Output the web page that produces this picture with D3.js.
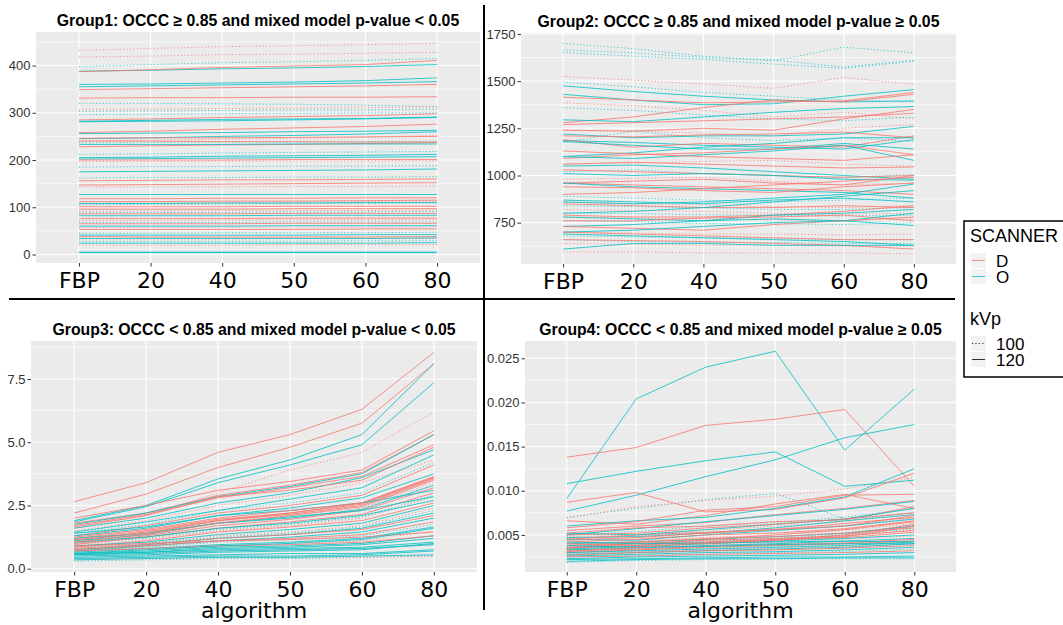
<!DOCTYPE html>
<html>
<head>
<meta charset="utf-8">
<script src="https://cdn.jsdelivr.net/npm/d3@7"></script>
<style>
  body { margin: 0; background: #fff; }
  svg { display: block; }
</style>
</head>
<body>
<div id="chart"></div>
<script>
// --- data ---
const algorithms = ["FBP", "20", "40", "50", "60", "80"];
const scanners = ["D", "O"];
const kvps = ["100", "120"];

const groupTitles = [
  "Group1: OCCC \u2265 0.85 and mixed model p-value < 0.05",
  "Group2: OCCC \u2265 0.85 and mixed model p-value \u2265 0.05",
  "Group3: OCCC < 0.85 and mixed model p-value < 0.05",
  "Group4: OCCC < 0.85 and mixed model p-value \u2265 0.05"
];

const yTicks1 = [0, 100, 200, 300, 400];
const yTicks2 = [750, 1000, 1250, 1500, 1750];
const yTicks3 = [0, 2.5, 5, 7.5];
const yTicks4 = [0.005, 0.010, 0.015, 0.020, 0.025];
const yMinor1 = [50, 150, 250, 350, 450];
const yMinor2 = [625, 875, 1125, 1375, 1625];
const yMinor3 = [1.25, 3.75, 6.25, 8.75];
const yMinor4 = [0.0025, 0.0075, 0.0125, 0.0175, 0.0225];

// each row: [scanner, kVp, values for FBP,20,40,50,60,80]
const group1Lines = [
  ["D",100,[432,436,440,442,444,447]], ["D",100,[418,420,423,424,426,428]],
  ["O",100,[398,402,406,408,411,415]], ["O",100,[320,320,319,318,316,313]],
  ["D",100,[307,308,309,310,311,313]], ["O",100,[303,304,305,306,306,308]],
  ["O",100,[296,297,298,299,300,300]], ["D",100,[240,242,244,246,248,252]],
  ["O",100,[236,237,238,238,239,240]], ["O",100,[212,213,215,216,217,218]],
  ["D",100,[197,197,198,198,198,199]], ["O",100,[185,186,186,187,187,188]],
  ["O",100,[162,163,163,164,164,165]], ["D",100,[143,143,143,144,144,145]],
  ["D",100,[108,109,110,111,112,113]], ["O",100,[105,106,107,108,108,109]],
  ["D",100,[92,92,93,93,93,94]], ["O",100,[88,89,89,90,90,91]],
  ["D",100,[72,72,73,73,73,74]], ["O",100,[68,68,68,69,69,69]],
  ["D",100,[57,57,58,58,58,58]], ["O",100,[45,45,46,46,46,47]],
  ["D",100,[33,33,33,34,34,34]], ["O",100,[28,28,28,28,29,29]],
  ["D",100,[20,20,20,21,21,21]],
  ["O",120,[388,390,393,395,398,402]], ["D",120,[387,391,396,399,402,411]],
  ["O",120,[360,361,363,365,368,374]], ["O",120,[355,357,359,361,363,366]],
  ["D",120,[349,351,353,355,357,360]], ["D",120,[331,332,332,333,333,334]],
  ["D",120,[285,287,290,292,294,298]], ["O",120,[282,284,286,287,288,291]],
  ["O",120,[281,282,283,285,287,290]], ["D",120,[258,261,265,268,271,276]],
  ["O",120,[256,257,258,260,261,263]], ["O",120,[245,247,250,252,255,260]],
  ["D",120,[246,247,247,248,249,250]], ["D",120,[240,240,239,239,238,238]],
  ["D",120,[228,230,232,233,235,237]], ["O",120,[233,233,233,234,234,234]],
  ["O",120,[205,206,208,209,210,212]], ["O",120,[202,203,204,205,206,207]],
  ["D",120,[200,200,200,201,201,201]], ["O",120,[175,176,177,178,179,181]],
  ["D",120,[156,157,158,158,159,160]], ["D",120,[147,148,149,150,151,152]],
  ["O",120,[127,127,127,127,127,127]], ["D",120,[118,118,119,119,120,120]],
  ["D",120,[112,112,113,113,114,115]], ["O",120,[108,108,109,109,110,110]],
  ["D",120,[101,101,101,102,102,102]], ["D",120,[96,96,96,97,97,97]],
  ["D",120,[86,86,86,87,87,87]], ["O",120,[82,82,82,83,83,83]],
  ["D",120,[76,76,76,77,77,77]], ["D",120,[65,65,65,66,66,66]],
  ["O",120,[60,60,60,61,61,61]], ["D",120,[53,53,53,53,54,54]],
  ["D",120,[38,37,37,37,37,38]], ["O",120,[41,41,41,41,42,42]],
  ["O",120,[34,34,34,34,34,35]], ["O",120,[24,24,24,24,24,25]],
  ["O",120,[5,5,5,5,5,5]], ["O",120,[4,4,4,4,4,4]]
];

const group2Lines = [
  ["O",100,[1700,1672,1632,1608,1680,1650]], ["O",100,[1665,1650,1625,1612,1575,1610]],
  ["O",100,[1652,1632,1615,1590,1568,1605]], ["D",100,[1525,1505,1485,1462,1520,1482]],
  ["O",100,[1495,1470,1440,1420,1400,1390]], ["D",100,[1385,1370,1345,1310,1335,1300]],
  ["O",100,[1360,1345,1320,1300,1290,1310]], ["D",100,[1240,1235,1225,1210,1250,1270]],
  ["O",100,[1175,1235,1200,1185,1200,1180]], ["D",100,[1060,1065,1075,1080,1060,1050]],
  ["O",100,[1020,1030,1010,1000,990,1005]], ["D",100,[980,985,990,970,950,960]],
  ["O",100,[890,880,870,860,870,880]], ["D",100,[860,850,845,835,830,840]],
  ["O",100,[840,835,830,820,820,830]], ["D",100,[820,815,810,800,795,800]],
  ["O",100,[800,798,792,790,785,790]], ["D",100,[780,775,770,765,760,770]],
  ["O",100,[760,755,745,745,740,750]], ["D",100,[700,695,690,690,685,690]],
  ["O",100,[680,675,670,665,660,660]], ["D",100,[640,635,630,630,625,625]],
  ["O",100,[660,650,645,645,640,640]], ["D",100,[595,595,590,590,590,585]],
  ["O",120,[1475,1445,1420,1400,1390,1395]], ["O",120,[1430,1400,1375,1380,1420,1455]],
  ["D",120,[1415,1400,1385,1390,1395,1440]], ["D",120,[1280,1310,1360,1400,1390,1430]],
  ["O",120,[1295,1285,1310,1335,1355,1365]], ["D",120,[1270,1280,1290,1300,1310,1330]],
  ["D",120,[1240,1235,1250,1240,1300,1350]], ["O",120,[1220,1200,1210,1210,1220,1260]],
  ["D",120,[1210,1205,1215,1220,1230,1200]], ["O",120,[1185,1175,1160,1150,1140,1190]],
  ["D",120,[1190,1150,1170,1160,1150,1210]], ["O",120,[1180,1160,1140,1140,1170,1140]],
  ["O",120,[1100,1120,1150,1170,1200,1200]], ["D",120,[1090,1110,1120,1140,1160,1110]],
  ["O",120,[1100,1090,1110,1130,1160,1080]], ["D",120,[1130,1115,1100,1090,1080,1110]],
  ["D",120,[1060,1070,1060,1050,1040,1045]], ["O",120,[1050,1055,1040,1020,1000,980]],
  ["D",120,[1030,1020,1010,1000,990,1000]], ["O",120,[1010,1000,1010,1000,980,975]],
  ["D",120,[960,970,980,960,950,1000]], ["D",120,[960,950,940,930,920,900]],
  ["O",120,[960,940,930,920,910,880]], ["D",120,[940,935,920,910,940,960]],
  ["D",120,[900,910,930,950,970,990]], ["O",120,[870,860,850,870,880,860]],
  ["O",120,[860,850,860,880,900,955]], ["D",120,[850,840,830,830,840,830]],
  ["O",120,[800,810,830,860,890,920]], ["D",120,[790,780,780,790,810,840]],
  ["O",120,[780,770,760,790,800,820]], ["D",120,[760,760,775,780,790,760]],
  ["O",120,[730,740,760,770,760,800]], ["D",120,[730,720,710,740,760,780]],
  ["O",120,[700,710,730,750,760,735]], ["D",120,[700,690,680,670,660,660]],
  ["O",120,[690,680,670,660,650,630]], ["D",120,[660,655,650,640,630,610]],
  ["O",120,[610,640,640,630,630,630]]
];

const group3Lines = [
  ["D",120,[2.65,3.4,4.6,5.3,6.3,8.55]], ["D",120,[2.2,2.95,4.0,4.8,5.75,8.1]],
  ["O",120,[1.9,2.5,3.55,4.3,5.3,8.1]], ["O",120,[1.85,2.45,3.4,4.1,4.9,7.35]],
  ["D",100,[1.6,2.1,3.0,3.9,4.6,6.2]], ["D",120,[2.0,2.5,3.1,3.45,3.9,5.45]],
  ["D",120,[1.8,2.2,2.9,3.3,3.8,5.3]], ["O",120,[1.75,2.2,2.85,3.25,3.75,5.3]],
  ["D",120,[1.7,2.15,2.8,3.2,3.65,4.9]], ["O",120,[1.6,2.0,2.6,3.0,3.6,4.7]],
  ["D",120,[1.65,2.1,2.85,3.1,3.5,4.8]], ["O",120,[1.45,1.85,2.3,2.75,3.2,4.5]],
  ["D",100,[1.5,1.9,2.5,2.9,3.4,4.3]], ["O",100,[1.4,1.75,2.3,2.6,3.0,4.2]],
  ["D",120,[1.3,1.7,2.2,2.5,2.9,4.1]], ["O",120,[1.3,1.6,2.1,2.4,2.8,3.75]],
  ["D",120,[1.2,1.5,1.95,2.2,2.55,3.6]], ["D",120,[1.1,1.45,1.9,2.15,2.5,3.55]],
  ["D",100,[1.15,1.45,1.85,2.1,2.4,3.4]], ["O",120,[1.1,1.35,1.8,2.0,2.35,3.3]],
  ["D",120,[1.0,1.3,1.7,1.95,2.3,3.2]], ["D",120,[0.95,1.25,1.6,1.85,2.15,3.0]],
  ["O",100,[1.0,1.2,1.55,1.75,2.05,2.9]], ["D",100,[0.9,1.15,1.5,1.7,2.0,2.85]],
  ["O",120,[1.05,1.25,1.6,1.8,2.1,2.7]], ["D",120,[0.85,1.1,1.45,1.65,1.9,2.6]],
  ["O",120,[0.9,1.05,1.35,1.55,1.8,2.5]], ["D",100,[0.8,1.0,1.3,1.45,1.7,2.4]],
  ["O",100,[0.85,1.0,1.25,1.4,1.65,2.3]], ["O",120,[0.75,0.95,1.2,1.35,1.6,2.2]],
  ["D",120,[0.8,0.95,1.2,1.35,1.55,2.1]], ["O",120,[0.7,0.9,1.1,1.25,1.45,2.0]],
  ["D",120,[0.75,0.9,1.1,1.2,1.35,1.85]], ["O",100,[0.7,0.85,1.05,1.15,1.3,1.75]],
  ["O",120,[0.65,0.8,0.95,1.05,1.2,1.65]], ["D",100,[0.65,0.75,0.9,1.0,1.1,1.5]],
  ["D",120,[0.9,1.0,1.1,1.15,1.25,1.45]], ["O",120,[0.6,0.7,0.85,0.9,1.0,1.3]],
  ["D",120,[0.7,0.8,0.9,0.95,1.05,1.3]], ["O",120,[0.55,0.65,0.8,0.85,0.95,1.2]],
  ["O",120,[0.6,0.65,0.75,0.8,0.85,1.05]], ["O",120,[0.5,0.55,0.65,0.7,0.75,1.0]],
  ["D",100,[0.55,0.6,0.7,0.75,0.8,0.95]], ["O",120,[0.45,0.5,0.55,0.6,0.6,0.75]],
  ["O",120,[0.4,0.45,0.5,0.5,0.55,0.7]], ["O",120,[0.35,0.4,0.45,0.45,0.5,0.55]],
  ["O",100,[0.3,0.35,0.4,0.4,0.45,0.5]], ["D",100,[0.4,0.4,0.45,0.45,0.45,0.5]],
  ["O",120,[1.4,1.65,2.1,2.3,2.6,3.1]], ["D",120,[1.25,1.55,2.0,2.3,2.6,3.6]],
  ["O",120,[1.2,1.4,1.8,2.05,2.3,2.85]], ["D",120,[1.05,1.35,1.8,2.1,2.45,3.5]],
  ["D",120,[1.15,1.4,1.9,2.2,2.6,3.65]], ["O",120,[0.6,0.75,0.9,1.0,1.15,1.6]],
  ["O",120,[0.55,0.6,0.7,0.75,0.8,0.95]]
];

const group4Lines = [
  ["O",120,[0.0091,0.0204,0.0240,0.0258,0.0146,0.0215]],
  ["D",120,[0.0138,0.0149,0.0174,0.0181,0.0192,0.0105]],
  ["O",120,[0.0108,0.0122,0.0134,0.0144,0.0105,0.0112]],
  ["O",120,[0.0077,0.0095,0.0116,0.0135,0.0160,0.0175]],
  ["D",120,[0.0087,0.0098,0.0076,0.0079,0.0092,0.0120]],
  ["O",100,[0.0070,0.0080,0.0090,0.0097,0.0068,0.0075]],
  ["D",100,[0.0069,0.0082,0.0089,0.0094,0.0102,0.0115]],
  ["D",120,[0.0066,0.0062,0.0072,0.0085,0.0096,0.0080]],
  ["O",120,[0.0060,0.0066,0.0070,0.0080,0.0093,0.0125]],
  ["D",120,[0.0058,0.0065,0.0078,0.0082,0.0095,0.0096]],
  ["D",120,[0.0055,0.0060,0.0064,0.0073,0.0080,0.0089]],
  ["O",120,[0.0050,0.0057,0.0065,0.0072,0.0079,0.0088]],
  ["D",120,[0.0052,0.0058,0.0060,0.0065,0.0067,0.0082]],
  ["O",100,[0.0049,0.0054,0.0060,0.0064,0.0070,0.0080]],
  ["D",100,[0.0048,0.0050,0.0055,0.0060,0.0065,0.0076]],
  ["O",120,[0.0047,0.0048,0.0052,0.0058,0.0066,0.0073]],
  ["D",120,[0.0045,0.0050,0.0053,0.0056,0.0063,0.0070]],
  ["O",120,[0.0045,0.0044,0.0050,0.0055,0.0060,0.0068]],
  ["D",120,[0.0042,0.0045,0.0050,0.0052,0.0057,0.0066]],
  ["D",100,[0.0040,0.0043,0.0047,0.0050,0.0055,0.0063]],
  ["O",120,[0.0040,0.0042,0.0045,0.0048,0.0052,0.0060]],
  ["D",120,[0.0038,0.0042,0.0046,0.0048,0.0052,0.0058]],
  ["O",100,[0.0037,0.0040,0.0043,0.0045,0.0050,0.0057]],
  ["D",120,[0.0036,0.0040,0.0044,0.0046,0.0049,0.0055]],
  ["D",120,[0.0035,0.0038,0.0042,0.0045,0.0047,0.0053]],
  ["O",120,[0.0034,0.0037,0.0040,0.0043,0.0046,0.0050]],
  ["D",100,[0.0033,0.0036,0.0039,0.0041,0.0045,0.0049]],
  ["O",120,[0.0033,0.0035,0.0038,0.0040,0.0043,0.0046]],
  ["D",120,[0.0032,0.0034,0.0037,0.0039,0.0041,0.0045]],
  ["O",100,[0.0031,0.0033,0.0035,0.0037,0.0040,0.0044]],
  ["D",120,[0.0030,0.0033,0.0036,0.0038,0.0040,0.0043]],
  ["O",120,[0.0030,0.0032,0.0034,0.0036,0.0038,0.0042]],
  ["D",100,[0.0029,0.0031,0.0033,0.0035,0.0037,0.0040]],
  ["O",120,[0.0028,0.0030,0.0032,0.0034,0.0036,0.0040]],
  ["D",120,[0.0027,0.0030,0.0032,0.0033,0.0035,0.0038]],
  ["O",120,[0.0026,0.0028,0.0030,0.0031,0.0033,0.0036]],
  ["O",100,[0.0025,0.0027,0.0028,0.0030,0.0031,0.0034]],
  ["D",120,[0.0025,0.0026,0.0028,0.0029,0.0030,0.0032]],
  ["O",120,[0.0023,0.0025,0.0026,0.0027,0.0028,0.0030]],
  ["O",120,[0.0022,0.0023,0.0024,0.0025,0.0025,0.0026]],
  ["O",120,[0.0020,0.0022,0.0023,0.0023,0.0024,0.0024]],
  ["O",100,[0.0019,0.0021,0.0022,0.0023,0.0023,0.0023]],
  ["D",120,[0.0040,0.0038,0.0045,0.0050,0.0056,0.0065]],
  ["O",120,[0.0052,0.0050,0.0056,0.0062,0.0068,0.0080]],
  ["D",120,[0.0035,0.0041,0.0040,0.0044,0.0050,0.0062]],
  ["O",120,[0.0042,0.0040,0.0041,0.0042,0.0043,0.0042]],
  ["O",120,[0.0038,0.0036,0.0037,0.0039,0.0040,0.0040]],
  ["D",120,[0.0050,0.0052,0.0058,0.0062,0.0068,0.0075]],
  ["D",120,[0.0044,0.0047,0.0052,0.0056,0.0060,0.0072]],
  ["D",100,[0.0046,0.0049,0.0053,0.0057,0.0061,0.0069]],
  ["D",120,[0.0031,0.0036,0.0041,0.0044,0.0048,0.0060]],
  ["O",100,[0.0036,0.0039,0.0042,0.0046,0.0051,0.0061]],
  ["D",100,[0.0034,0.0037,0.0040,0.0043,0.0048,0.0056]]
];

// --- layout ---
const W = 1063, H = 625;
const panels = [
  { lines: group1Lines, title: groupTitles[0], x0: 36,  x1: 480, y0: 32,  y1: 263, dom: [-18, 471],
    ticks: yTicks1, minor: yMinor1, fmt: d3.format("d"), xlab: false },
  { lines: group2Lines, title: groupTitles[1], x0: 521, x1: 956, y0: 33,  y1: 264, dom: [531, 1755],
    ticks: yTicks2, minor: yMinor2, fmt: d3.format("d"), xlab: false },
  { lines: group3Lines, title: groupTitles[2], x0: 31,  x1: 477, y0: 341, y1: 572, dom: [-0.13, 9.0],
    ticks: yTicks3, minor: yMinor3, fmt: d3.format(".1f"), xlab: true },
  { lines: group4Lines, title: groupTitles[3], x0: 525, x1: 956, y0: 341, y1: 572, dom: [0.0008, 0.02696],
    ticks: yTicks4, minor: yMinor4, fmt: d3.format(".3f"), xlab: true }
];

const color = d3.scaleOrdinal().domain(scanners).range(["#F8766D", "#00BFC4"]);
const dash = d3.scaleOrdinal().domain(kvps).range(["1.2,2.2", null]);

const svg = d3.select("#chart").append("svg")
  .attr("width", W).attr("height", H);
svg.append("rect").attr("width", W).attr("height", H).attr("fill", "#fff");

panels.forEach(p => {
  const x = d3.scalePoint().domain(algorithms).range([p.x0, p.x1]).padding(0.6);
  const y = d3.scaleLinear().domain(p.dom).range([p.y1, p.y0]);
  const g = svg.append("g");

  g.append("rect")
    .attr("x", p.x0).attr("y", p.y0)
    .attr("width", p.x1 - p.x0).attr("height", p.y1 - p.y0)
    .attr("fill", "#EBEBEB");

  // minor grid
  g.selectAll(".minor").data(p.minor.filter(v => v > p.dom[0] && v < p.dom[1])).enter()
    .append("line")
    .attr("x1", p.x0).attr("x2", p.x1)
    .attr("y1", d => y(d)).attr("y2", d => y(d))
    .attr("stroke", "#fff").attr("stroke-width", 0.6);
  // major grid
  g.selectAll(".major").data(p.ticks).enter()
    .append("line")
    .attr("x1", p.x0).attr("x2", p.x1)
    .attr("y1", d => y(d)).attr("y2", d => y(d))
    .attr("stroke", "#fff").attr("stroke-width", 1.1);
  g.selectAll(".xgrid").data(algorithms).enter()
    .append("line")
    .attr("x1", d => x(d)).attr("x2", d => x(d))
    .attr("y1", p.y0).attr("y2", p.y1)
    .attr("stroke", "#fff").attr("stroke-width", 1.1);

  // series
  const line = d3.line().x((d, i) => x(algorithms[i])).y(d => y(d));
  const ordered = p.lines.slice().sort((a, b) => d3.ascending(a[1], b[1]));
  g.append("g").selectAll("path").data(ordered).enter()
    .append("path")
    .attr("d", d => line(d[2]))
    .attr("fill", "none")
    .attr("stroke", d => color(d[0]))
    .attr("stroke-opacity", d => d[1] === 100 ? 0.75 : 0.8)
    .attr("stroke-width", 1)
    .attr("stroke-dasharray", d => dash(String(d[1])));

  // y axis
  const ya = g.append("g")
    .attr("transform", `translate(${p.x0},0)`)
    .call(d3.axisLeft(y).tickValues(p.ticks).tickFormat(p.fmt).tickSize(3.5).tickPadding(2));
  ya.select(".domain").remove();
  ya.selectAll(".tick line").attr("stroke", "#333");
  ya.selectAll(".tick text")
    .attr("fill", "#333")
    .style("font-family", "'Liberation Sans', Arial, sans-serif")
    .style("font-size", "13px");

  // x axis
  const xa = g.append("g")
    .attr("transform", `translate(0,${p.y1})`)
    .call(d3.axisBottom(x).tickSize(3.5).tickPadding(4));
  xa.select(".domain").remove();
  xa.selectAll(".tick line").attr("stroke", "#333");
  xa.selectAll(".tick text")
    .attr("fill", "#000")
    .attr("dy", "0.8em")
    .style("font-family", "'DejaVu Sans', sans-serif")
    .style("font-size", "22px");

  // title
  g.append("text")
    .attr("x", (p.x0 + p.x1) / 2)
    .attr("y", p.y0 - 6)
    .attr("text-anchor", "middle")
    .style("font-family", "'Liberation Sans', Arial, sans-serif")
    .style("font-weight", "bold")
    .style("font-size", "15.8px")
    .text(p.title);

  if (p.xlab) {
    g.append("text")
      .attr("x", (p.x0 + p.x1) / 2)
      .attr("y", p.y1 + 46)
      .attr("text-anchor", "middle")
      .style("font-family", "'DejaVu Sans', sans-serif")
      .style("font-size", "22px")
      .text("algorithm");
  }
});

// dividers
svg.append("line").attr("x1", 9).attr("x2", 955).attr("y1", 299).attr("y2", 299)
  .attr("stroke", "#000").attr("stroke-width", 2);
svg.append("line").attr("x1", 484).attr("x2", 484).attr("y1", 5).attr("y2", 610)
  .attr("stroke", "#000").attr("stroke-width", 2);

// legend
const lg = svg.append("g");
lg.append("rect").attr("x", 964).attr("y", 221).attr("width", 110).attr("height", 156)
  .attr("fill", "#fff").attr("stroke", "#000").attr("stroke-width", 1.5);
const lf = "'Liberation Sans', Arial, sans-serif";
lg.append("text").attr("x", 970).attr("y", 242).style("font-family", lf).style("font-size", "18px")
  .text("SCANNER");
scanners.forEach((s, i) => {
  const ky = 253 + i * 16;
  lg.append("rect").attr("x", 971).attr("y", ky).attr("width", 15).attr("height", 15).attr("fill", "#F2F2F2");
  lg.append("line").attr("x1", 972).attr("x2", 985).attr("y1", ky + 7.5).attr("y2", ky + 7.5)
    .attr("stroke", color(s)).attr("stroke-opacity", 0.8).attr("stroke-width", 1);
  lg.append("text").attr("x", 996).attr("y", ky + 14).style("font-family", lf).style("font-size", "17px").text(s);
});
lg.append("text").attr("x", 970).attr("y", 325).style("font-family", lf).style("font-size", "18px")
  .text("kVp");
kvps.forEach((k, i) => {
  const ky = 336 + i * 16;
  lg.append("rect").attr("x", 971).attr("y", ky).attr("width", 15).attr("height", 15).attr("fill", "#F2F2F2");
  lg.append("line").attr("x1", 972).attr("x2", 985).attr("y1", ky + 7.5).attr("y2", ky + 7.5)
    .attr("stroke", "#333").attr("stroke-width", 1)
    .attr("stroke-dasharray", dash(k));
  lg.append("text").attr("x", 996).attr("y", ky + 14).style("font-family", lf).style("font-size", "17px").text(k);
});
</script>
</body>
</html>
